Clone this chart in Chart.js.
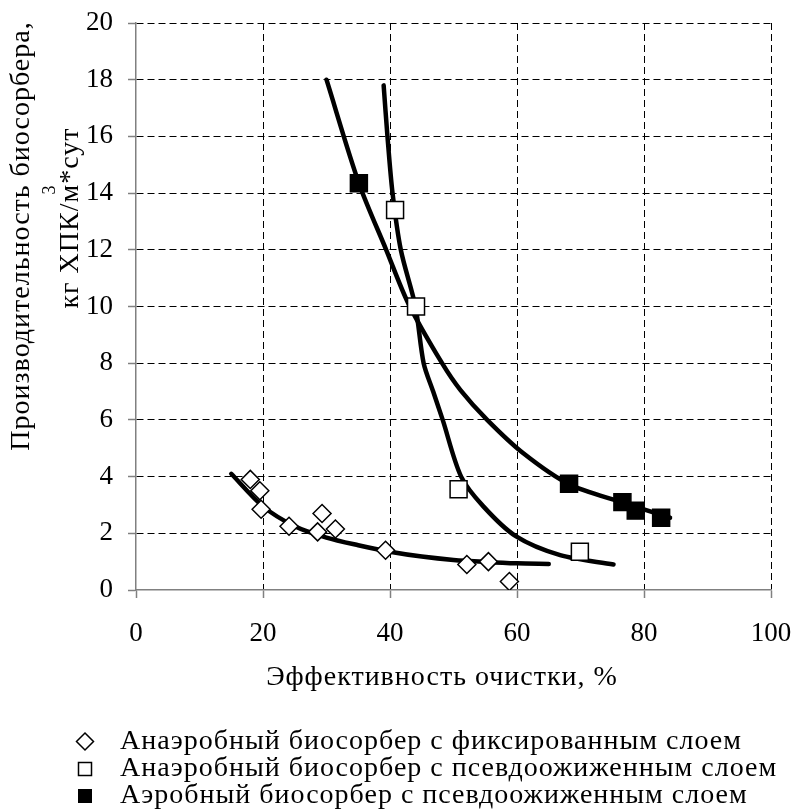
<!DOCTYPE html>
<html>
<head>
<meta charset="utf-8">
<script src="https://cdn.jsdelivr.net/npm/chart.js@4/dist/chart.umd.min.js"></script>
<style>
  html, body { margin: 0; padding: 0; background: #fff; }
  #wrap { width: 797px; height: 811px; position: relative; }
</style>
</head>
<body>
<div id="wrap"><canvas id="myChart" width="797" height="811"></canvas></div>
<script>
// measured points
const fixedX = [18.0, 19.5, 19.7, 24.1, 29.3, 28.6, 31.4, 39.3, 52.1, 55.5, 58.8];
const fixedY = [3.9, 3.5, 2.85, 2.25, 2.7, 2.05, 2.15, 1.4, 0.9, 1.0, 0.3];
const fluidX = [40.8, 44.1, 50.8, 69.9];
const fluidY = [13.4, 10.0, 3.55, 1.35];
const aeroX = [35.1, 68.2, 76.6, 78.7, 82.7];
const aeroY = [14.35, 3.75, 3.1, 2.8, 2.55];

// trend lines
const fixedFitX = [15, 20, 25, 30, 35, 40, 45, 50, 55, 60, 65];
const fixedFitY = [4.1, 2.95, 2.25, 1.85, 1.58, 1.35, 1.18, 1.06, 0.99, 0.94, 0.92];
const fluidFitX = [39.0, 39.6, 40.4, 41.7, 44.0, 45.3, 46.8, 48.3, 51.2, 54.7, 59.8, 66.8, 75.2];
const fluidFitY = [17.8, 16.0, 14.0, 12.0, 10.0, 8.0, 7.0, 6.0, 4.0, 2.95, 1.9, 1.23, 0.9];
const aeroFitX = [30.0, 35.1, 39.4, 42.9, 48.2, 51.1, 55.3, 61.0, 68.2, 76.6, 84.1];
const aeroFitY = [18.0, 14.35, 12.0, 10.1, 8.0, 7.05, 6.0, 4.82, 3.73, 3.09, 2.55];

const xMin = 0, xMax = 100, xStep = 20;
const yMin = 0, yMax = 20, yStep = 2;

const legendLabels = [
  "Анаэробный биосорбер с фиксированным слоем",
  "Анаэробный биосорбер с псевдоожиженным слоем",
  "Аэробный биосорбер с псевдоожиженным слоем",
];
const xTitle = "Эффективность очистки, %";
const yTitle1 = "Производительность биосорбера,";
const yTitle2 = "кг ХПК/м*сут";

const FONT = "'Liberation Serif', 'Times New Roman', serif";
const pts = (xs, ys) => xs.map((x, i) => ({ x: x, y: ys[i] }));

const fitLine = (xs, ys) => ({
  data: pts(xs, ys),
  showLine: true,
  borderColor: "#000",
  borderWidth: 4.5,
  pointRadius: 0,
  tension: 0.3,
  borderCapStyle: "round",
  borderJoinStyle: "round",
  fill: false,
});

// titles and legend drawn by hand so they sit where the original has them
const textPlugin = {
  id: "texts",
  afterDraw(chart) {
    const ctx = chart.ctx;
    ctx.save();
    ctx.fillStyle = "#000";
    ctx.font = "28px " + FONT;
    ctx.letterSpacing = "1px";
    ctx.textBaseline = "middle";

    ctx.textAlign = "center";
    ctx.fillText(xTitle, 442, 677.5);

    // y title, two rotated lines
    ctx.save();
    ctx.translate(22, 236);
    ctx.rotate(-Math.PI / 2);
    ctx.fillText(yTitle1, 0, 0);
    ctx.restore();

    ctx.save();
    ctx.translate(71, 218);
    ctx.rotate(-Math.PI / 2);
    const w = ctx.measureText(yTitle2).width;
    ctx.textAlign = "left";
    ctx.fillText(yTitle2, -w / 2, 0);
    const pre = ctx.measureText("кг ХПК/").width;
    const mW = ctx.measureText("м").width;
    ctx.font = "18px " + FONT;
    ctx.textAlign = "center";
    ctx.fillText("3", -w / 2 + pre + mW * 0.7, -21);
    ctx.restore();

    // legend
    const rows = [741.5, 769, 796];
    ctx.lineWidth = 1.5;
    ctx.strokeStyle = "#000";
    // diamond
    ctx.beginPath();
    ctx.moveTo(85, rows[0] - 8.5);
    ctx.lineTo(93.5, rows[0]);
    ctx.lineTo(85, rows[0] + 8.5);
    ctx.lineTo(76.5, rows[0]);
    ctx.closePath();
    ctx.fillStyle = "#fff";
    ctx.fill();
    ctx.stroke();
    // open square
    ctx.fillStyle = "#fff";
    ctx.fillRect(78.5, rows[1] - 6.5, 13, 13);
    ctx.strokeRect(78.5, rows[1] - 6.5, 13, 13);
    // filled square
    ctx.fillStyle = "#000";
    ctx.fillRect(78, rows[2] - 7, 14, 14);

    ctx.font = "28px " + FONT;
    ctx.textAlign = "left";
    legendLabels.forEach((t, i) => ctx.fillText(t, 120, rows[i]));
    ctx.restore();
  },
};

const gridColor = (c) => (c.tick && c.tick.value === 0 ? "rgba(0,0,0,0)" : "#000");

const config = {
  type: "scatter",
  data: {
    datasets: [
      {
        label: legendLabels[0],
        data: pts(fixedX, fixedY),
        pointStyle: "rectRot",
        pointRadius: 9,
        backgroundColor: "#fff",
        borderColor: "#000",
        borderWidth: 1.5,
      },
      {
        label: legendLabels[1],
        data: pts(fluidX, fluidY),
        pointStyle: "rect",
        pointRadius: 12,
        backgroundColor: "#fff",
        borderColor: "#000",
        borderWidth: 1.5,
      },
      {
        label: legendLabels[2],
        data: pts(aeroX, aeroY),
        pointStyle: "rect",
        pointRadius: 12,
        backgroundColor: "#000",
        borderColor: "#000",
        borderWidth: 1.5,
      },
      fitLine(fixedFitX, fixedFitY),
      fitLine(fluidFitX, fluidFitY),
      fitLine(aeroFitX, aeroFitY),
    ],
  },
  options: {
    responsive: false,
    animation: false,
    layout: { padding: { left: 0, right: 26, top: 23, bottom: 0 } },
    plugins: {
      legend: { display: false },
      tooltip: { enabled: false },
    },
    scales: {
      x: {
        type: "linear",
        min: xMin,
        max: xMax,
        afterFit: (s) => { s.height = 221; s.paddingLeft = 0; s.paddingRight = 0; },
        ticks: { stepSize: xStep, padding: 20, color: "#000", font: { family: FONT, size: 27 } },
        grid: { color: gridColor, lineWidth: 1, tickLength: 8, tickColor: "#808080", tickWidth: 1.5, tickBorderDash: [] },
        border: { color: "#808080", width: 1.5, dash: [7, 4] },
      },
      y: {
        type: "linear",
        min: yMin,
        max: yMax,
        afterFit: (s) => { s.width = 136; s.paddingTop = 0; s.paddingBottom = 0; },
        ticks: { stepSize: yStep, padding: 15, color: "#000", font: { family: FONT, size: 27 } },
        grid: { color: gridColor, lineWidth: 1, tickLength: 8, tickColor: "#808080", tickWidth: 1.5, tickBorderDash: [] },
        border: { color: "#808080", width: 1.5, dash: [7, 4] },
      },
    },
  },
  plugins: [textPlugin],
};

new Chart(document.getElementById("myChart"), config);
</script>
</body>
</html>
